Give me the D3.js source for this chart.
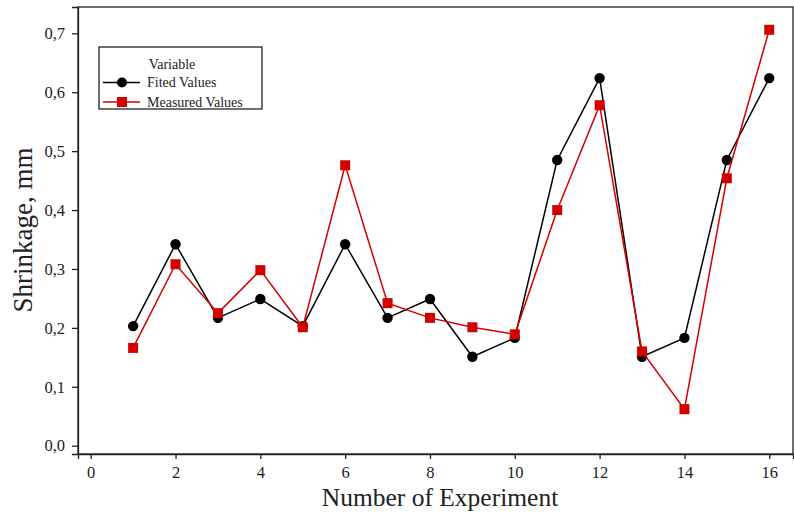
<!DOCTYPE html>
<html>
<head>
<meta charset="utf-8">
<script src="https://cdn.jsdelivr.net/npm/d3@7"></script>
<style>
  body { margin: 0; background: #fff; }
  svg text { font-family: "Liberation Serif", "Times New Roman", serif; fill: #222; }
</style>
</head>
<body>
<div id="chart"></div>
<script>
var experiments = [1, 2, 3, 4, 5, 6, 7, 8, 9, 10, 11, 12, 13, 14, 15, 16];
var fittedValues = [0.203, 0.342, 0.217, 0.249, 0.203, 0.342, 0.217, 0.249, 0.151, 0.183, 0.485, 0.624, 0.151, 0.183, 0.485, 0.624];
var measuredValues = [0.166, 0.308, 0.225, 0.298, 0.201, 0.476, 0.242, 0.217, 0.201, 0.189, 0.400, 0.578, 0.160, 0.062, 0.454, 0.706];
var xTicks = [0, 2, 4, 6, 8, 10, 12, 14, 16];
var yTicks = [0, 0.1, 0.2, 0.3, 0.4, 0.5, 0.6, 0.7];

var w = 794, h = 512;
var pLeft = 78, pRight = 793, pTop = 7, pBottom = 454;
var red = "#d40000";

var svg = d3.select("#chart").append("svg")
  .attr("width", w)
  .attr("height", h);

var x = d3.scaleLinear().domain([-0.3, 16.56]).range([pLeft, pRight]);
var y = d3.scaleLinear().domain([-0.0141, 0.7447]).range([pBottom, pTop]);

// frame
svg.append("rect")
  .attr("x", pLeft).attr("y", pTop)
  .attr("width", pRight - pLeft).attr("height", pBottom - pTop)
  .attr("fill", "none").attr("stroke", "#222").attr("stroke-width", 1.3);

// axes
var xAxis = svg.append("g")
  .attr("transform", "translate(0," + pBottom + ")")
  .call(d3.axisBottom(x).tickValues(xTicks).tickSize(5).tickPadding(7).tickFormat(d3.format("d")));
var yAxis = svg.append("g")
  .attr("transform", "translate(" + pLeft + ",0)")
  .call(d3.axisLeft(y).tickValues(yTicks).tickSize(6).tickPadding(7)
    .tickFormat(function (d) { return d3.format(".1f")(d).replace(".", ","); }));

[xAxis, yAxis].forEach(function (a) {
  a.attr("font-size", 16.5).attr("font-family", "Liberation Serif, serif");
  a.select(".domain").attr("stroke", "#222").attr("stroke-width", 1.3);
  a.selectAll(".tick line").attr("stroke", "#222").attr("stroke-width", 1.3);
  a.selectAll(".tick text").attr("fill", "#222");
});

// axis titles
svg.append("text")
  .attr("x", 440).attr("y", 506)
  .attr("text-anchor", "middle").attr("font-size", 25.5)
  .text("Number of Experiment");
svg.append("text")
  .attr("transform", "translate(32,230) rotate(-90)")
  .attr("text-anchor", "middle").attr("font-size", 27)
  .text("Shrinkage, mm");

var line = d3.line()
  .x(function (d) { return x(d[0]); })
  .y(function (d) { return y(d[1]); });

var fitted = experiments.map(function (e, i) { return [e, fittedValues[i]]; });
var measured = experiments.map(function (e, i) { return [e, measuredValues[i]]; });

// fitted series
svg.append("path").datum(fitted)
  .attr("d", line).attr("fill", "none")
  .attr("stroke", "#000").attr("stroke-width", 1.5);
svg.selectAll("circle.fit")
  .data(fitted)
  .enter().append("circle")
  .attr("class", "fit")
  .attr("cx", function (d) { return x(d[0]); })
  .attr("cy", function (d) { return y(d[1]); })
  .attr("r", 5.2)
  .attr("fill", "#000");

// measured series
svg.append("path").datum(measured)
  .attr("d", line).attr("fill", "none")
  .attr("stroke", red).attr("stroke-width", 1.5);
svg.selectAll("rect.meas")
  .data(measured)
  .enter().append("rect")
  .attr("class", "meas")
  .attr("x", function (d) { return x(d[0]) - 5; })
  .attr("y", function (d) { return y(d[1]) - 5; })
  .attr("width", 10).attr("height", 10)
  .attr("fill", red);

// legend
var lg = svg.append("g").attr("transform", "translate(99,47)");
lg.append("rect")
  .attr("width", 163).attr("height", 62)
  .attr("fill", "#fff").attr("stroke", "#222").attr("stroke-width", 1.3);
lg.append("text")
  .attr("x", 73).attr("y", 21.5)
  .attr("text-anchor", "middle").attr("font-size", 14)
  .text("Variable");
var items = [
  {label: "Fited Values", color: "#000", shape: "circle"},
  {label: "Measured Values", color: red, shape: "square"}
];
items.forEach(function (d, i) {
  var yy = 35.5 + i * 19.5;
  lg.append("line")
    .attr("x1", 4).attr("x2", 41).attr("y1", yy).attr("y2", yy)
    .attr("stroke", d.color).attr("stroke-width", 1.5);
  if (d.shape === "circle") {
    lg.append("circle").attr("cx", 23).attr("cy", yy).attr("r", 5).attr("fill", d.color);
  } else {
    lg.append("rect").attr("x", 18).attr("y", yy - 5).attr("width", 10).attr("height", 10).attr("fill", d.color);
  }
  lg.append("text")
    .attr("x", 48).attr("y", yy + 4.5)
    .attr("font-size", 14)
    .text(d.label);
});
</script>
</body>
</html>
